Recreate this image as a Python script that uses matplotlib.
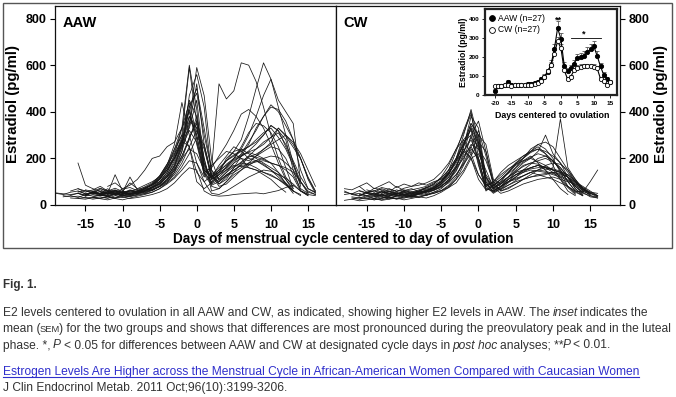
import numpy as np
import matplotlib
matplotlib.use('Agg')
import matplotlib.pyplot as plt
from matplotlib.patches import Rectangle
from matplotlib.lines import Line2D

plt.rcParams['font.family'] = ['Liberation Sans', 'DejaVu Sans']
plt.rcParams['axes.linewidth'] = 0.9
plt.rcParams['axes.unicode_minus'] = False

W, H = 676, 397

# ---------------- data: individual AAW profiles (start day, daily E2 values) ----------------
aaw_starts = [-19, -16, -18, -17, -15, -14, -16, -12, -17, -19, -15, -14, -13, -16,
              -18, -15, -13, -17, -16, -14, -12, -15, -16, -13, -11, -14, -16]
aaw_values = [
    [52,48,45,50,42,55,47,50,44,56,60,58,72,88,112,150,215,330,600,410,150,118,140,158,190,208,232,262,300,342,318,280,150,62,45],
    [180,85,70,58,52,62,50,47,58,68,75,92,125,165,245,350,590,470,195,105,128,150,172,205,218,238,268,330,295,248,198,115,58],
    [40,35,38,30,33,28,35,30,38,36,42,48,55,70,95,140,230,340,520,260,120,140,175,200,215,228,240,260,290,310,260,190,120,70,52],
    [60,70,55,65,80,60,72,58,95,70,85,100,120,165,200,280,420,480,300,150,90,110,160,210,260,330,380,420,410,360,280,150,70,55],
    [45,52,40,48,55,50,62,58,70,85,110,150,200,280,380,300,140,160,520,455,490,610,600,530,420,300,200,120,80],
    [35,42,38,30,45,40,52,60,75,100,140,210,290,450,380,160,120,150,190,230,280,380,500,610,540,450,400,350,100],
    [70,60,55,48,62,50,45,55,60,52,65,80,105,140,195,290,360,250,110,130,165,200,240,300,380,470,540,420,300,180,80],
    [80,95,70,85,110,150,200,210,250,270,330,440,300,150,120,170,210,250,230,200,190,170,150,120,90,60],
    [30,28,25,32,27,22,30,35,28,32,38,45,55,70,95,130,160,150,60,42,38,40,45,48,50,52,48,55,62,75,85,60,45,40],
    [50,45,55,60,48,52,45,58,62,50,48,55,60,75,90,120,170,260,380,330,180,95,120,150,180,200,190,210,230,250,240,200,130,70,50],
    [40,55,65,50,130,60,45,55,70,62,80,110,160,230,470,560,420,130,90,120,160,185,210,205,195,180,170,150,120,60,40],
    [60,50,70,45,55,120,65,60,75,90,120,170,250,320,270,140,90,110,140,165,180,175,160,140,125,110,90,60,40],
    [45,40,50,38,52,48,60,80,110,160,230,300,250,100,70,95,130,160,200,250,310,350,340,310,250,160,70],
    [55,62,48,70,58,65,52,60,68,75,88,100,130,180,260,420,500,330,150,110,140,180,220,270,320,380,430,400,340,280,200,120,60],
    [35,40,32,45,38,42,36,48,40,45,52,60,68,85,110,150,210,290,350,200,80,70,100,130,150,170,190,200,210,205,180,150,100,55,45],
    [65,58,72,60,55,68,75,62,78,95,125,175,240,300,590,350,140,100,140,200,230,240,220,200,180,160,140,110,70],
    [48,55,50,45,60,55,65,78,100,140,200,270,330,450,180,110,150,190,215,235,250,270,300,340,320,250,180,100,50],
    [42,50,38,55,45,40,48,55,42,50,58,65,80,100,130,180,250,320,240,120,100,130,150,170,175,185,190,180,170,160,140,100,60,45],
    [50,42,58,48,35,45,40,52,48,60,72,90,120,155,200,240,220,150,130,160,190,210,230,250,280,310,330,290,240,170,90],
    [30,35,28,40,32,38,45,50,62,80,105,150,210,280,380,200,60,70,100,140,180,210,240,270,290,330,300,260,200,110,50],
    [45,52,60,48,55,70,85,110,150,200,260,410,280,130,170,200,230,220,200,160,150,130,110,80,55],
    [38,45,40,52,47,55,50,60,70,90,115,160,240,330,400,260,130,85,100,125,140,160,180,190,175,150,130,95,60,45],
    [60,48,52,45,50,58,42,38,46,55,65,78,95,120,165,220,290,260,130,80,90,120,150,180,210,240,260,280,300,270,220,150,80],
    [55,48,60,52,65,58,70,88,120,170,260,440,300,180,120,160,210,260,320,390,410,380,330,260,180,110,60],
    [40,50,45,55,62,75,95,130,190,270,360,330,170,110,130,150,170,165,160,150,140,130,110,85,60],
    [50,58,45,62,55,48,60,72,90,125,175,220,275,250,140,100,125,150,170,195,210,225,215,200,180,140,90,50],
    [28,32,25,30,35,28,22,30,38,45,55,70,90,115,150,190,180,100,50,45,60,80,100,120,135,150,145,130,115,90,60,40],
]

# ---------------- data: individual CW profiles ----------------
cw_starts = [-18, -17, -16, -18, -16, -15, -17, -14, -18, -16, -15, -13,
             -17, -15, -18, -14, -16, -12, -17, -15, -16, -13, -18, -14]
cw_values = [
    [60,45,50,38,42,55,48,40,52,45,50,60,72,90,130,200,300,410,280,90,60,80,110,130,150,160,170,160,150,140,120,80,50,40,35],
    [30,25,35,28,22,30,26,35,40,32,45,55,70,100,160,250,380,330,120,70,90,120,150,180,200,230,300,220,180,120,70,45],
    [40,55,48,62,50,45,58,52,60,48,65,80,110,150,220,340,270,100,55,75,100,130,145,160,170,150,160,370,160,110,70,50,40],
    [70,65,80,55,60,75,68,58,72,80,85,95,110,140,180,240,280,220,130,85,100,140,170,190,210,230,240,220,190,150,100,60,55],
    [25,30,22,28,35,25,30,38,33,42,50,62,85,120,190,300,360,230,90,60,75,90,110,120,130,135,140,130,120,100,80,60,40],
    [50,42,58,45,52,48,40,55,62,70,90,120,170,230,280,200,70,60,80,100,110,125,140,130,120,110,95,80,60,55,100,150],
    [45,38,50,42,35,48,40,45,38,50,55,65,80,105,145,210,250,190,80,50,70,95,120,150,175,200,210,190,160,120,70,40],
    [35,42,30,38,45,40,50,60,75,100,150,230,320,400,200,80,100,130,155,175,190,200,185,170,150,120,80,55,40],
    [20,25,18,22,28,20,25,30,22,28,35,30,40,55,75,110,170,240,200,120,65,80,100,115,125,140,150,145,135,125,110,80,55,35,30],
    [60,50,72,65,55,80,62,70,58,75,68,85,100,130,175,220,300,260,110,90,120,160,200,240,260,270,250,200,150,100,65,50],
    [40,35,45,38,50,42,36,48,55,62,80,110,160,250,330,260,90,55,70,85,100,110,120,125,130,140,135,120,95,70,50],
    [50,58,45,62,55,65,75,90,115,150,200,260,330,180,60,85,110,140,170,190,210,180,150,110,70,45],
    [35,30,40,28,45,32,38,42,35,48,40,55,62,75,95,140,200,220,150,75,50,60,75,90,100,110,115,120,110,100,90,75,55,40],
    [55,62,50,70,58,65,52,60,75,85,105,140,190,260,350,300,120,80,110,140,175,200,225,240,230,210,180,140,100,60,45],
    [45,50,40,55,48,42,60,50,45,58,52,65,70,90,120,165,230,290,250,130,85,100,120,140,150,155,160,165,150,140,130,100,70,50,40],
    [28,35,25,40,30,36,45,55,70,95,135,190,270,300,170,70,60,80,100,120,140,160,170,160,140,110,75,45],
    [80,95,70,85,100,75,90,80,95,85,100,110,130,160,200,260,240,190,100,80,110,140,170,180,175,160,150,140,120,90,60,45],
    [40,48,55,45,60,72,90,120,170,240,310,390,260,90,70,100,140,180,210,230,250,220,170,110,60,40],
    [25,32,28,22,30,35,28,40,32,38,45,50,60,80,110,150,210,270,230,100,60,70,90,110,130,150,170,180,175,150,110,70,40,30],
    [65,55,70,60,48,58,65,72,80,95,115,150,200,280,320,240,100,75,95,120,145,165,180,190,200,185,160,120,80,55],
    [45,40,52,38,48,55,42,50,46,58,64,75,95,130,180,250,320,210,85,65,85,105,125,140,150,160,155,145,130,105,75,50,35],
    [30,38,45,35,42,50,60,75,100,140,190,230,200,130,80,95,120,150,180,200,230,260,240,200,140,80,50],
    [55,48,62,52,45,58,50,65,55,48,60,68,80,100,135,190,260,350,300,110,75,90,110,130,140,150,145,140,130,120,105,85,65,55,50],
    [38,45,40,50,42,48,55,62,78,100,135,180,240,200,110,65,85,110,135,160,185,205,220,210,190,150,100,60,40],
]

# ---------------- data: inset means (SEM) ----------------
inset_days = list(range(-20, 16))
aaw_mean = [22,45,48,50,68,55,52,50,52,53,60,58,62,70,82,95,120,160,240,352,295,155,125,140,165,195,198,205,225,240,255,205,150,105,85,68]
aaw_sem = [8,8,8,8,10,8,8,8,8,8,8,8,9,10,12,14,18,22,30,35,30,20,15,18,20,22,22,24,25,26,28,25,20,15,12,10]
cw_mean = [45,48,45,50,50,48,50,50,50,52,55,55,58,65,75,95,125,158,215,282,247,130,85,97,130,142,148,150,150,150,148,140,85,74,53,67]
cw_sem = [6,6,6,6,6,6,6,6,6,6,6,6,7,8,9,10,12,15,20,25,22,15,10,10,12,14,14,14,14,15,15,15,10,8,7,7]

main_xticks = [-15, -10, -5, 0, 5, 10, 15]
main_yticks = [0, 200, 400, 600, 800]
inset_xticks = [-20, -15, -10, -5, 0, 5, 10, 15]
inset_yticks = [0, 100, 200, 300, 400]

# ---------------- figure ----------------
fig = plt.figure(figsize=(W / 100, H / 100), dpi=100)


def fx(px):
    return px / W


def fy(py):
    return 1 - py / H


# outer frame of the chart image
fig.patches.append(Rectangle((fx(3), fy(248)), fx(672) - fx(3), fy(3) - fy(248),
                             transform=fig.transFigure, fill=False,
                             edgecolor='#555555', linewidth=1.0))

line_kw = dict(color='#161616', linewidth=0.55)


def style_main(ax, xlim):
    ax.set_xlim(*xlim)
    ax.set_ylim(0, 856)
    ax.set_xticks(main_xticks)
    ax.set_yticks(main_yticks)
    ax.tick_params(axis='x', direction='out', length=4, width=0.8, labelsize=9, pad=6)
    ax.tick_params(axis='y', direction='out', length=3.5, width=0.8, labelsize=9, pad=2.5)
    for lbl in ax.get_xticklabels() + ax.get_yticklabels():
        lbl.set_fontweight('bold')
    for sp in ax.spines.values():
        sp.set_color('#111111')


ax1 = fig.add_axes([fx(55), fy(205), fx(335.5) - fx(55), fy(5.5) - fy(205)])
for s, v in zip(aaw_starts, aaw_values):
    ax1.plot(np.arange(s, s + len(v)), v, **line_kw)
style_main(ax1, (-19.1, 18.7))

ax2 = fig.add_axes([fx(335.5), fy(205), fx(620) - fx(335.5), fy(5.5) - fy(205)])
for s, v in zip(cw_starts, cw_values):
    ax2.plot(np.arange(s, s + len(v)), v, **line_kw)
ax2.yaxis.tick_right()
style_main(ax2, (-19.2, 19.0))

fig.text(fx(63), fy(23), 'AAW', fontsize=10.5, fontweight='bold', va='center', ha='left')
fig.text(fx(343), fy(23), 'CW', fontsize=10.5, fontweight='bold', va='center', ha='left')
fig.text(fx(13), fy(104), 'Estradiol (pg/ml)', rotation=90, fontsize=10.8,
         fontweight='bold', ha='center', va='center')
fig.text(fx(661), fy(104), 'Estradiol (pg/ml)', rotation=90, fontsize=10.8,
         fontweight='bold', ha='center', va='center')
fig.text(fx(343), fy(239), 'Days of menstrual cycle centered to day of ovulation',
         fontsize=9.8, fontweight='bold', ha='center', va='center')

# ---------------- inset ----------------
axi = fig.add_axes([fx(485), fy(95), fx(617) - fx(485), fy(9) - fy(95)], zorder=5)
axi.set_facecolor('white')
zeros = np.zeros(len(inset_days))
axi.errorbar(inset_days, aaw_mean, yerr=[zeros, aaw_sem], fmt='none',
             ecolor='#555555', elinewidth=0.6, capsize=1.3, capthick=0.6)
axi.errorbar(inset_days, cw_mean, yerr=[zeros, cw_sem], fmt='none',
             ecolor='#555555', elinewidth=0.6, capsize=1.3, capthick=0.6)
axi.plot(inset_days, aaw_mean, '-o', color='black', lw=0.8, ms=3.1,
         mfc='black', mec='black', mew=0.6)
axi.plot(inset_days, cw_mean, '-o', color='black', lw=0.8, ms=3.1,
         mfc='white', mec='black', mew=0.6)
axi.set_xlim(-23, 17)
axi.set_ylim(0, 452)
axi.set_xticks(inset_xticks)
axi.set_yticks(inset_yticks)
axi.tick_params(axis='both', direction='out', length=2, width=0.6, labelsize=4.6, pad=2)
for lbl in axi.get_xticklabels() + axi.get_yticklabels():
    lbl.set_fontweight('bold')
for sp in axi.spines.values():
    sp.set_linewidth(1.6)
    sp.set_color('#222222')

# significance marks
axi.text(-0.8, 392, '**', ha='center', va='center', fontsize=6.5, fontweight='bold')
axi.plot([3, 12], [300, 300], color='black', lw=0.6)
axi.text(7.0, 322, '*', ha='center', va='center', fontsize=6.5, fontweight='bold')

# legend
axi.plot([0.055], [0.895], 'o', transform=axi.transAxes, ms=4.2, mfc='black', mec='black', mew=0.6)
axi.plot([0.055], [0.76], 'o', transform=axi.transAxes, ms=4.2, mfc='white', mec='black', mew=0.6)
axi.text(0.095, 0.895, 'AAW (n=27)', transform=axi.transAxes, fontsize=6.2, va='center')
axi.text(0.095, 0.76, 'CW (n=27)', transform=axi.transAxes, fontsize=6.2, va='center')

fig.text(fx(464), fy(52), 'Estradiol (pg/ml)', rotation=90, fontsize=6.3,
         fontweight='bold', ha='center', va='center')
fig.text(fx(552), fy(115), 'Days centered to ovulation', fontsize=6.4,
         fontweight='bold', ha='center', va='center')

# ---------------- caption ----------------
cap_col = '#333333'
link_col = '#2f2fcc'
fs = 8.65
space_px = 0.278 * fs * 100 / 72

fig.text(fx(3), fy(288), 'Fig. 1.', fontsize=8.4, fontweight='bold', color=cap_col, va='baseline')

fig.canvas.draw()
renderer = fig.canvas.get_renderer()


def draw_line(x0_px, base_px, segments, color=cap_col):
    x = x0_px
    for txt, style in segments:
        if txt == ' ':
            x += space_px
            continue
        kw = dict(fontsize=fs, color=color, va='baseline', ha='left')
        if style == 'i':
            kw['fontstyle'] = 'italic'
        if style == 'sc':
            kw['fontsize'] = fs * 0.78
        t = fig.text(fx(x), fy(base_px), txt, **kw)
        bb = t.get_window_extent(renderer)
        x = bb.x1 - 0.8
    return x


draw_line(3, 316, [
    ('E2 levels centered to ovulation in all AAW and CW, as indicated, showing higher E2 levels in AAW. The', 'n'),
    (' ', 'n'), ('inset', 'i'), (' ', 'n'), ('indicates the', 'n')])
draw_line(3, 332, [
    ('mean (', 'n'), ('SEM', 'sc'),
    (') for the two groups and shows that differences are most pronounced during the preovulatory peak and in the luteal', 'n')])
draw_line(3, 348.5, [
    ('phase. *,', 'n'), (' ', 'n'), ('P', 'i'), (' ', 'n'),
    ('< 0.05 for differences between AAW and CW at designated cycle days in', 'n'),
    (' ', 'n'), ('post hoc', 'i'), (' ', 'n'), ('analyses; **', 'n'), ('P', 'i'), (' ', 'n'), ('< 0.01.', 'n')])

link = fig.text(fx(3), fy(375), 'Estrogen Levels Are Higher across the Menstrual Cycle in African-American Women Compared with Caucasian Women',
                fontsize=fs, color=link_col, va='baseline', ha='left')
lbb = link.get_window_extent(renderer)
fig.lines.append(Line2D([lbb.x0 / W, lbb.x1 / W], [fy(377), fy(377)],
                        transform=fig.transFigure, color=link_col, lw=0.8))
fig.text(fx(3), fy(391), 'J Clin Endocrinol Metab. 2011 Oct;96(10):3199-3206.',
         fontsize=fs, color=cap_col, va='baseline', ha='left')

fig.savefig('out.png', dpi=100)
